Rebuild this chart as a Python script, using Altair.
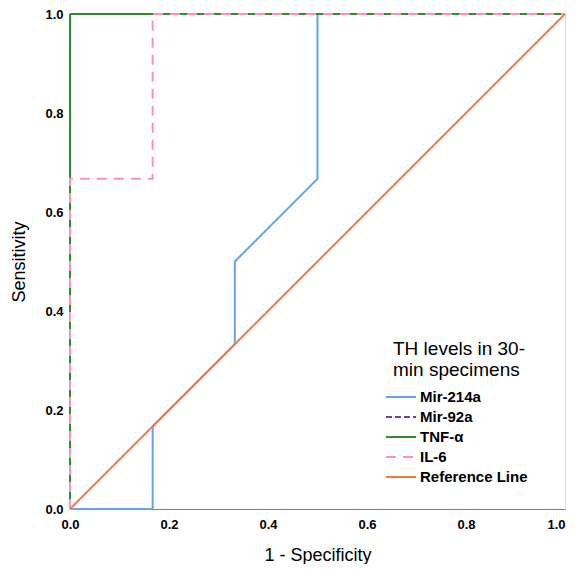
import altair as alt
import pandas as pd

series_names = ["Mir-214a", "Mir-92a", "TNF-α", "IL-6", "Reference Line"]
colors = ["#65a3ec", "#7d3c98", "#2e8b2e", "#ff8fbf", "#f7773b"]
dashes = [[1, 0], [6, 3], [1, 0], [10, 7], [1, 0]]

mir214a_x = [0.0, 0.167, 0.167, 0.333, 0.333, 0.5, 0.5, 1.0]
mir214a_y = [0.0, 0.0, 0.167, 0.333, 0.5, 0.667, 1.0, 1.0]
mir92a_x = [0.0, 0.0, 1.0]
mir92a_y = [0.0, 1.0, 1.0]
tnf_x = [0.0, 0.0, 1.0]
tnf_y = [0.0, 1.0, 1.0]
il6_x = [0.0, 0.0, 0.167, 0.167, 1.0]
il6_y = [0.0, 0.667, 0.667, 1.0, 1.0]
ref_x = [0.0, 1.0]
ref_y = [0.0, 1.0]

tick_values = [0, 0.2, 0.4, 0.6, 0.8, 1.0]
legend_title = ["TH levels in 30-", "min specimens"]

xs = [mir214a_x, mir92a_x, tnf_x, il6_x, ref_x]
ys = [mir214a_y, mir92a_y, tnf_y, il6_y, ref_y]

rows = []
for si, (name, xv, yv) in enumerate(zip(series_names, xs, ys)):
    for i, (a, b) in enumerate(zip(xv, yv)):
        rows.append({"series": name, "x": a, "y": b, "step": i, "z": si})
df = pd.DataFrame(rows)

font = "Liberation Sans"

lines = alt.Chart(df).mark_line(strokeWidth=2, clip=False).encode(
    x=alt.X("x:Q", scale=alt.Scale(domain=[0, 1], nice=False),
            axis=alt.Axis(title="1 - Specificity", values=tick_values,
                          format=".1f", grid=False, ticks=False, labelPadding=9,
                          labelFlush=False,
                          labelAlign={"condition": {"test": "datum.value >= 1", "value": "right"},
                                      "value": "center"},
                          labelFontWeight="bold", labelFontSize=13, titleFontSize=18,
                          titleFontWeight="normal", titlePadding=15,
                          domainColor="#808080", labelColor="#000", titleColor="#000")),
    y=alt.Y("y:Q", scale=alt.Scale(domain=[0, 1], nice=False),
            axis=alt.Axis(title="Sensitivity", values=tick_values,
                          format=".1f", grid=False, ticks=False, labelPadding=7,
                          labelFlush=False,
                          labelFontWeight="bold", labelFontSize=13, titleFontSize=18,
                          titleFontWeight="normal", titlePadding=16,
                          domainColor="#808080", labelColor="#000", titleColor="#000")),
    color=alt.Color("series:N", scale=alt.Scale(domain=series_names, range=colors),
                    sort=series_names, title=None),
    strokeDash=alt.StrokeDash("series:N", scale=alt.Scale(domain=series_names, range=dashes),
                              sort=series_names, title=None),
    detail="z:N",
    order="step:Q",
)

title_text = alt.Chart(pd.DataFrame({"t": [legend_title]})).mark_text(
    align="left", baseline="alphabetic", fontSize=19, lineHeight=21, color="#000",
).encode(text="t", x=alt.value(323), y=alt.value(341))

chart = alt.layer(lines, title_text).properties(
    width=495, height=495,
    autosize=alt.AutoSizeParams(type="none"),
    padding={"left": 62, "top": 6, "right": 2, "bottom": 55},
).configure_view(stroke=None).configure(font=font).configure_legend(
    orient="none", legendX=315, legendY=373,
    labelFontSize=15, labelFontWeight="bold", labelColor="#000", labelOffset=3,
    symbolType="stroke", symbolSize=900, symbolStrokeWidth=2, rowPadding=0,
    clipHeight=20,
)

chart.save("out.html", embed_options={"renderer": "svg", "actions": False})
